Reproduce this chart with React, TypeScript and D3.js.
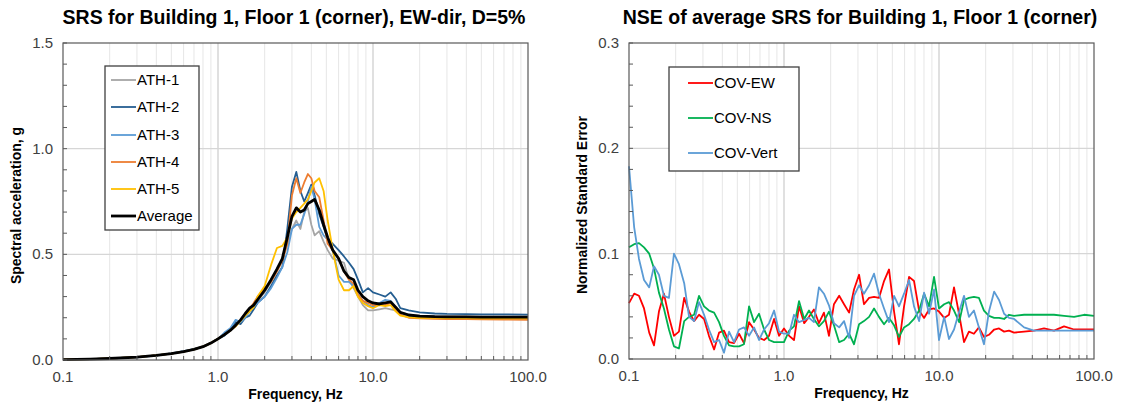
import React from 'react';
import * as d3 from 'd3';

// ---------- Left chart data (SRS) ----------
const FREQ_SRS = [0.1, 0.15, 0.2, 0.3, 0.4, 0.5, 0.6, 0.7, 0.8, 0.9, 1.0, 1.1, 1.2, 1.3, 1.4, 1.5, 1.6, 1.7, 1.8, 2.0, 2.2, 2.4, 2.6, 2.8, 3.0, 3.2, 3.4, 3.6, 3.8, 4.0, 4.2, 4.5, 4.8, 5.1, 5.5, 6.0, 6.5, 7.0, 7.5, 8.0, 8.6, 9.3, 10, 11, 12, 13, 14, 15, 17, 20, 25, 30, 40, 50, 70, 100];

const ATH_1 = [0.002, 0.004, 0.007, 0.014, 0.022, 0.031, 0.041, 0.052, 0.064, 0.082,
  0.100, 0.120, 0.140, 0.160, 0.185, 0.210, 0.240, 0.260, 0.280,
  0.320, 0.370, 0.420, 0.470, 0.550,
  0.620, 0.660, 0.620, 0.700, 0.720,
  0.640, 0.590, 0.610, 0.560,
  0.520, 0.480,
  0.470, 0.460,
  0.380, 0.340,
  0.300, 0.260,
  0.235,
  0.235, 0.240, 0.245, 0.240, 0.235, 0.225,
  0.215, 0.210, 0.208, 0.207, 0.206, 0.205, 0.205, 0.205];

const ATH_2 = [0.002, 0.004, 0.007, 0.014, 0.022, 0.031, 0.042, 0.052, 0.062, 0.082,
  0.100, 0.115, 0.140, 0.180, 0.170, 0.200, 0.210, 0.240, 0.270,
  0.300, 0.350, 0.400, 0.440, 0.620,
  0.820, 0.890, 0.800, 0.750, 0.790,
  0.830, 0.780, 0.690, 0.630,
  0.570, 0.550,
  0.520, 0.490,
  0.460, 0.430,
  0.380, 0.320,
  0.340,
  0.320, 0.310, 0.300, 0.320, 0.290, 0.245,
  0.235, 0.225, 0.220, 0.218, 0.217, 0.216, 0.216, 0.215];

const ATH_3 = [0.002, 0.004, 0.007, 0.013, 0.021, 0.030, 0.040, 0.051, 0.063, 0.080,
  0.100, 0.130, 0.150, 0.190, 0.180, 0.200, 0.230, 0.250, 0.270,
  0.300, 0.340, 0.390, 0.440, 0.510,
  0.620, 0.640, 0.640, 0.690, 0.750,
  0.820, 0.760, 0.630, 0.590,
  0.570, 0.520,
  0.400, 0.370,
  0.370, 0.350,
  0.310, 0.280,
  0.260,
  0.250, 0.270, 0.285, 0.280, 0.250, 0.225,
  0.210, 0.205, 0.204, 0.203, 0.203, 0.203, 0.202, 0.202];

const ATH_4 = [0.002, 0.004, 0.007, 0.014, 0.022, 0.030, 0.040, 0.050, 0.063, 0.080,
  0.100, 0.120, 0.140, 0.160, 0.190, 0.220, 0.240, 0.270, 0.300,
  0.340, 0.370, 0.420, 0.470, 0.550,
  0.780, 0.860, 0.790, 0.840, 0.880,
  0.860, 0.800, 0.770, 0.660,
  0.550, 0.520,
  0.480, 0.420,
  0.380, 0.360,
  0.310, 0.280,
  0.270,
  0.260, 0.260, 0.260, 0.270, 0.240, 0.215,
  0.200, 0.197, 0.195, 0.194, 0.193, 0.192, 0.191, 0.190];

const ATH_5 = [0.002, 0.004, 0.007, 0.014, 0.022, 0.030, 0.040, 0.050, 0.063, 0.080,
  0.100, 0.120, 0.140, 0.160, 0.185, 0.210, 0.230, 0.250, 0.300,
  0.350, 0.450, 0.530, 0.540, 0.580,
  0.670, 0.700, 0.720, 0.740, 0.760,
  0.800, 0.840, 0.860, 0.800,
  0.660, 0.520,
  0.380, 0.330,
  0.330, 0.350,
  0.300, 0.270,
  0.255,
  0.245, 0.260, 0.255, 0.260, 0.230, 0.210,
  0.203, 0.200, 0.199, 0.198, 0.198, 0.197, 0.197, 0.197];

const AVERAGE = [0.002, 0.004, 0.007, 0.014, 0.022, 0.030, 0.040, 0.050, 0.063, 0.080,
  0.100, 0.120, 0.140, 0.165, 0.190, 0.220, 0.245, 0.260, 0.285,
  0.330, 0.380, 0.430, 0.480, 0.580,
  0.680, 0.720, 0.700, 0.710, 0.740,
  0.750, 0.760, 0.710, 0.640,
  0.580, 0.520,
  0.480, 0.420,
  0.390, 0.380,
  0.330, 0.300,
  0.280,
  0.270, 0.265, 0.270, 0.275, 0.250, 0.225,
  0.213, 0.208, 0.205, 0.204, 0.204, 0.203, 0.203, 0.203];

// ---------- Right chart data (NSE) ----------
const FREQ_NSE = [0.1, 0.108, 0.116, 0.125, 0.135, 0.145, 0.156, 0.168, 0.181, 0.195, 0.21, 0.227, 0.244, 0.263, 0.283, 0.305, 0.328, 0.354, 0.381, 0.41, 0.442, 0.476, 0.513, 0.552, 0.595, 0.641, 0.69, 0.744, 0.801, 0.863, 0.929,
  1.0, 1.08, 1.16, 1.25, 1.35, 1.45, 1.56, 1.68, 1.81, 1.95, 2.1, 2.27, 2.44, 2.63, 2.83, 3.05, 3.28, 3.54, 3.81, 4.1, 4.42, 4.76, 5.13, 5.52, 5.95, 6.41, 6.9, 7.44, 8.01, 8.63, 9.29,
  10, 10.8, 11.6, 12.5, 13.5, 14.5, 15.6, 16.8, 18.1, 19.5, 21, 22.7, 24.4, 26.3, 28.3, 30.5,
  35.4, 41, 47.6, 55.2, 64.1, 74.4, 86.3, 100];

const COV_EW = [0.053, 0.062, 0.060, 0.048, 0.025, 0.013, 0.045, 0.062, 0.040, 0.022, 0.026, 0.058, 0.045, 0.036, 0.042, 0.038, 0.022, 0.009, 0.025, 0.027, 0.016, 0.015, 0.024, 0.015, 0.035, 0.028, 0.020, 0.018, 0.022, 0.038, 0.022,
  0.029, 0.022, 0.018, 0.050, 0.034, 0.040, 0.047, 0.034, 0.044, 0.022, 0.052, 0.060, 0.052, 0.044, 0.066, 0.080, 0.052, 0.058, 0.059, 0.058, 0.074, 0.085, 0.045, 0.014, 0.050, 0.078, 0.074, 0.046, 0.039, 0.047, 0.048,
  0.045, 0.039, 0.042, 0.068, 0.042, 0.016, 0.026, 0.024, 0.030, 0.021, 0.023, 0.028, 0.029, 0.026, 0.027, 0.025,
  0.026, 0.027, 0.029, 0.027, 0.031, 0.028, 0.028, 0.028];

const COV_NS = [0.106, 0.109, 0.110, 0.106, 0.100, 0.086, 0.063, 0.048, 0.028, 0.012, 0.010, 0.036, 0.040, 0.042, 0.060, 0.050, 0.046, 0.044, 0.035, 0.022, 0.013, 0.012, 0.012, 0.014, 0.050, 0.035, 0.043, 0.028, 0.018, 0.016, 0.016,
  0.016, 0.027, 0.031, 0.055, 0.038, 0.046, 0.038, 0.031, 0.036, 0.045, 0.032, 0.016, 0.018, 0.024, 0.014, 0.033, 0.036, 0.040, 0.048, 0.040, 0.033, 0.039, 0.032, 0.021, 0.030, 0.033, 0.038, 0.046, 0.062, 0.050, 0.078,
  0.048, 0.052, 0.054, 0.046, 0.035, 0.056, 0.058, 0.059, 0.058, 0.046, 0.041, 0.039, 0.039, 0.038, 0.042, 0.041,
  0.042, 0.042, 0.042, 0.042, 0.041, 0.040, 0.042, 0.041];

const COV_VERT = [0.183, 0.125, 0.095, 0.075, 0.068, 0.088, 0.080, 0.060, 0.058, 0.100, 0.090, 0.072, 0.040, 0.036, 0.054, 0.042, 0.028, 0.016, 0.018, 0.006, 0.026, 0.016, 0.028, 0.030, 0.022, 0.030, 0.018, 0.028, 0.034, 0.046, 0.026,
  0.024, 0.024, 0.042, 0.035, 0.037, 0.039, 0.035, 0.068, 0.062, 0.051, 0.034, 0.030, 0.036, 0.020, 0.060, 0.070, 0.062, 0.070, 0.081, 0.062, 0.048, 0.035, 0.060, 0.050, 0.062, 0.075, 0.050, 0.036, 0.063, 0.043, 0.066,
  0.018, 0.040, 0.019, 0.028, 0.045, 0.060, 0.040, 0.046, 0.030, 0.014, 0.045, 0.064, 0.056, 0.043, 0.039, 0.038,
  0.030, 0.027, 0.027, 0.027, 0.027, 0.027, 0.027, 0.027];

const X_TICKS = [0.1, 1, 10, 100];
const X_TICK_LABELS = ['0.1', '1.0', '10.0', '100.0'];
const SRS_Y_TICKS = [0, 0.5, 1.0, 1.5];
const NSE_Y_TICKS = [0, 0.1, 0.2, 0.3];

const FONT = '"Liberation Sans", Arial, Helvetica, sans-serif';

type Series = { name: string; values: number[]; color: string; width: number };

function Panel(props: {
  left: number; right: number; top: number; bottom: number;
  freqs: number[]; series: Series[]; yMax: number; yTicks: number[]; yMinor: number;
  title: string; titleX: number; yTitle: string; yTitleX: number;
  legend: { x: number; y: number; w: number; h: number; rowY: number[]; lineX0: number; lineX1: number; textX: number };
}) {
  const { left, right, top, bottom, freqs, series, yMax, yTicks, yMinor, legend } = props;
  const x = d3.scaleLog().domain([0.1, 100]).range([left, right]);
  const y = d3.scaleLinear().domain([0, yMax]).range([bottom, top]);
  const line = d3.line<[number, number]>().x(d => x(d[0])).y(d => y(d[1]));

  const minorX: number[] = [];
  [0.1, 1, 10].forEach(dec => { for (let m = 2; m <= 9; m++) minorX.push(dec * m); });
  const minorY = d3.range(0, yMax + 1e-9, yMinor).map(v => +v.toFixed(4));

  return (
    <g>
      <text x={props.titleX} y={24} textAnchor="middle" fontFamily={FONT} fontWeight="bold" fontSize={19.5} fill="#000">{props.title}</text>
      {/* gridlines */}
      {minorX.map((f, i) => (
        <line key={'mx' + i} x1={x(f)} x2={x(f)} y1={top} y2={bottom} stroke="#e6e6e6" strokeWidth={1} />
      ))}
      {X_TICKS.slice(1, 3).map((f, i) => (
        <line key={'Mx' + i} x1={x(f)} x2={x(f)} y1={top} y2={bottom} stroke="#d0d0d0" strokeWidth={1.3} />
      ))}
      {yTicks.slice(1, -1).map((v, i) => (
        <line key={'gy' + i} x1={left} x2={right} y1={y(v)} y2={y(v)} stroke="#d6d6d6" strokeWidth={1.3} />
      ))}
      {/* series */}
      {series.map(s => (
        <path key={s.name} d={line(freqs.map((f, i) => [f, s.values[i]] as [number, number])) || ''}
          fill="none" stroke={s.color} strokeWidth={s.width} strokeLinejoin="round" />
      ))}
      {/* frame */}
      <rect x={left} y={top} width={right - left} height={bottom - top} fill="none" stroke="#595959" strokeWidth={1.2} />
      {/* minor ticks */}
      {minorY.map((v, i) => (
        <line key={'ty' + i} x1={left} x2={left + 4} y1={y(v)} y2={y(v)} stroke="#595959" strokeWidth={1} />
      ))}
      {minorX.map((f, i) => (
        <line key={'tx' + i} x1={x(f)} x2={x(f)} y1={bottom} y2={bottom - 4} stroke="#595959" strokeWidth={1} />
      ))}
      {/* tick labels */}
      {yTicks.map((v, i) => (
        <text key={'yl' + i} x={left - 10} y={y(v) + 5} textAnchor="end" fontFamily={FONT} fontSize={15} fill="#404040">{v.toFixed(1)}</text>
      ))}
      {X_TICKS.map((f, i) => (
        <text key={'xl' + i} x={x(f)} y={bottom + 22} textAnchor="middle" fontFamily={FONT} fontSize={15} fill="#404040">{X_TICK_LABELS[i]}</text>
      ))}
      {/* axis titles */}
      <text x={(left + right) / 2} y={bottom + 39} textAnchor="middle" fontFamily={FONT} fontWeight="bold" fontSize={14} fill="#000">Frequency, Hz</text>
      <text transform={`translate(${props.yTitleX},${(top + bottom) / 2 + 4}) rotate(-90)`} textAnchor="middle" fontFamily={FONT} fontWeight="bold" fontSize={14} fill="#000">{props.yTitle}</text>
      {/* legend */}
      <rect x={legend.x} y={legend.y} width={legend.w} height={legend.h} fill="#fff" stroke="#404040" strokeWidth={1.3} />
      {series.map((s, i) => (
        <g key={'lg' + s.name}>
          <line x1={legend.lineX0} x2={legend.lineX1} y1={legend.rowY[i]} y2={legend.rowY[i]} stroke={s.color} strokeWidth={s.width} />
          <text x={legend.textX} y={legend.rowY[i] + 5} fontFamily={FONT} fontSize={15} fill="#000">{s.name}</text>
        </g>
      ))}
    </g>
  );
}

export default function App() {
  const srsSeries: Series[] = [
    { name: 'ATH-1', values: ATH_1, color: '#A5A5A5', width: 1.8 },
    { name: 'ATH-2', values: ATH_2, color: '#255E91', width: 1.8 },
    { name: 'ATH-3', values: ATH_3, color: '#5B9BD5', width: 1.8 },
    { name: 'ATH-4', values: ATH_4, color: '#ED7D31', width: 1.8 },
    { name: 'ATH-5', values: ATH_5, color: '#FFC000', width: 1.8 },
    { name: 'Average', values: AVERAGE, color: '#000000', width: 2.8 },
  ];
  const nseSeries: Series[] = [
    { name: 'COV-EW', values: COV_EW, color: '#FF0000', width: 1.8 },
    { name: 'COV-NS', values: COV_NS, color: '#00B050', width: 1.8 },
    { name: 'COV-Vert', values: COV_VERT, color: '#5B9BD5', width: 1.8 },
  ];
  return (
    <svg width={1121} height={405} style={{ position: 'absolute', left: 0, top: 0, background: '#fff' }}>
      <rect x={0} y={0} width={1121} height={405} fill="#fff" />
      <Panel left={63} right={528} top={43} bottom={360} freqs={FREQ_SRS} series={srsSeries}
        yMax={1.5} yTicks={SRS_Y_TICKS} yMinor={0.1}
        title="SRS for Building 1, Floor 1 (corner), EW-dir, D=5%" titleX={294}
        yTitle="Spectral acceleration, g" yTitleX={21}
        legend={{ x: 105, y: 66, w: 94, h: 164, rowY: [80, 107, 135, 162, 189, 216], lineX0: 111, lineX1: 136, textX: 137 }} />
      <Panel left={629} right={1094} top={43} bottom={359} freqs={FREQ_NSE} series={nseSeries}
        yMax={0.3} yTicks={NSE_Y_TICKS} yMinor={0.02}
        title="NSE of average SRS for Building 1, Floor 1 (corner)" titleX={860}
        yTitle="Normalized Standard Error" yTitleX={587}
        legend={{ x: 669, y: 67, w: 130, h: 104, rowY: [83, 118, 153], lineX0: 688, lineX1: 713, textX: 714 }} />
    </svg>
  );
}
